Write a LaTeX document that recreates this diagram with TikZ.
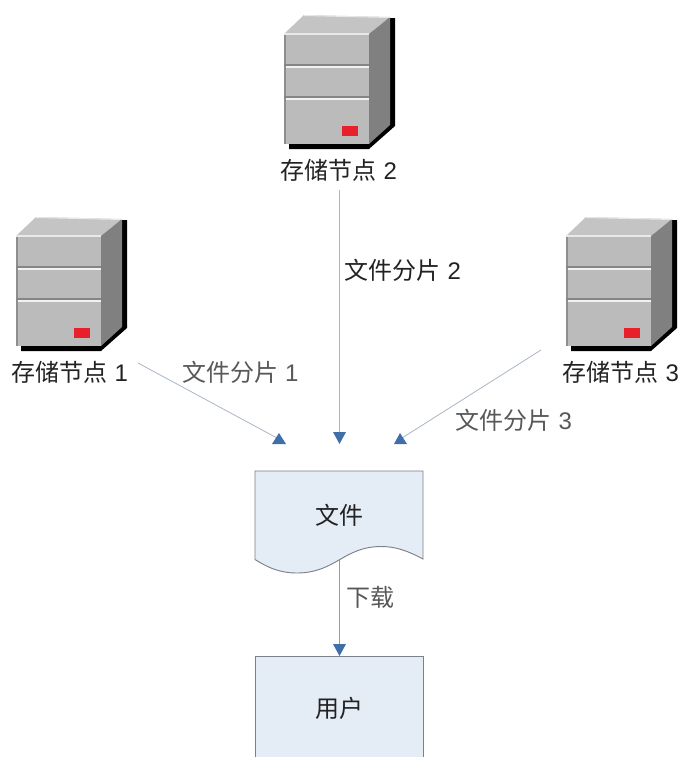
\documentclass[tikz,border=0pt]{standalone}
\usepackage{fontspec}
\setmainfont{Liberation Sans}
\newfontfamily\cjk{Noto Sans CJK SC}
\newcommand{\zh}[1]{{\cjk #1}}
\definecolor{paperblue}{HTML}{E4ECF6}
\definecolor{tipblue}{HTML}{3F6EA8}
\definecolor{edgegrey}{HTML}{7C8088}
\definecolor{labelgrey}{HTML}{585858}
\definecolor{labelblack}{HTML}{222222}
\definecolor{wirelight}{HTML}{A9B6C4}
\definecolor{wiredark}{HTML}{8E9EB0}
\definecolor{srvfront}{HTML}{BBBBBB}
\definecolor{srvtop}{HTML}{C4C4C4}
\definecolor{srvedge}{HTML}{8E8E8E}
\definecolor{srvside}{HTML}{808080}
\definecolor{srvhigh}{HTML}{E8E8E8}
\definecolor{srvgroove}{HTML}{858585}
\definecolor{srvshine}{HTML}{F2F2F2}
\definecolor{srvled}{HTML}{E8202C}
\tikzset{
  x=0.75pt,y=-0.75pt,
  nodelabel/.style={inner sep=0pt,font=\fontsize{18pt}{20pt}\selectfont,text=labelblack},
  edgelabel/.style={inner sep=0pt,font=\fontsize{18pt}{20pt}\selectfont,text=labelgrey},
  wire/.style={draw=#1,line width=0.6pt},
  wire/.default=wirelight,
  tipfill/.style={fill=tipblue},
  paperbox/.style={fill=paperblue,draw=edgegrey,line width=0.7pt},
  pics/serverbox/.style={code={
    \fill[black] (5,110) -- (5,115) -- (85,115) -- (111,92) -- (111,-16) -- (105,-16) -- cycle;
    \fill[srvfront] (0,0) rectangle (85,110);
    \fill[srvedge] (0,0) rectangle (2,110);
    \fill[srvtop] (0,0) -- (20,-19) -- (106,-17) -- (85,0) -- cycle;
    \fill[srvside] (85,0) -- (106,-17) -- (106,91) -- (85,110) -- cycle;
    \fill[srvhigh] (0,-1) -- (85,-1) -- (85,1) -- (0,1) -- cycle;
    \fill[srvhigh] (20,-19) -- (106,-17) -- (106,-16) -- (20,-18) -- cycle;
    \fill[srvgroove] (0,29.5) rectangle (85,31.5);
    \fill[srvshine] (2,31.5) rectangle (85,33.5);
    \fill[srvgroove] (0,62) rectangle (85,64);
    \fill[srvshine] (2,64) rectangle (85,66);
    \fill[srvled] (58,92) rectangle (74,102);
  }},
}
\begin{document}
\begin{tikzpicture}
\useasboundingbox (0,0) rectangle (696,775);
% servers
\pic at (16,236) {serverbox};
\pic at (284,34) {serverbox};
\pic at (566,236) {serverbox};
% labels
\node[nodelabel] (s1) at (70,372) {\zh{存储节点} 1};
\node[nodelabel] (s2) at (339,170) {\zh{存储节点} 2};
\node[nodelabel] (s3) at (621,372) {\zh{存储节点} 3};
\node[edgelabel] (l1) at (240.5,372) {\zh{文件分片} 1};
\node[nodelabel] (l2) at (403,270) {\zh{文件分片} 2};
\node[edgelabel] (l3) at (514,420) {\zh{文件分片} 3};
\node[edgelabel] (l4) at (370.5,597) {\zh{下载}};
% document and user
\path[paperbox] (255,559.5) -- (255,471) -- (423,471) -- (423,559)
  .. controls (408,551) and (396,546.5) .. (381,546.5)
  .. controls (363,546.5) and (351,553) .. (339,560)
  .. controls (327,567) and (315,573) .. (297,573)
  .. controls (279,573) and (267,567) .. (255,559.5) -- cycle;
\node[nodelabel] (doc) at (339.5,515) {\zh{文件}};
\fill[paperblue] (255,656) rectangle (423,757);
\draw[draw=edgegrey,line width=0.7pt] (255,757) -- (255,656) -- (423,656) -- (423,757);
\node[nodelabel] (usr) at (339.5,708) {\zh{用户}};
% connectors
\coordinate (a1) at (138,363);
\coordinate (b1) at (277,438);
\coordinate (a2) at (339.5,190);
\coordinate (b2) at (339.5,434);
\coordinate (a3) at (541,350);
\coordinate (b3) at (402,438);
\coordinate (a4) at (339.5,560);
\coordinate (b4) at (339.5,646);
\draw[wire] (a1) -- (b1);
\draw[wire] (a2) -- (b2);
\draw[wire] (a3) -- (b3);
\draw[wire=wiredark] (a4) -- (b4);
% arrowheads
\fill[tipfill] (279,433) -- (272,444) -- (286,444) -- cycle;
\fill[tipfill] (333,432) -- (346,432) -- (339.5,444) -- cycle;
\fill[tipfill] (400,433) -- (394,444) -- (407,444) -- cycle;
\fill[tipfill] (333,644) -- (346,644) -- (339.5,656) -- cycle;
\end{tikzpicture}
\end{document}
